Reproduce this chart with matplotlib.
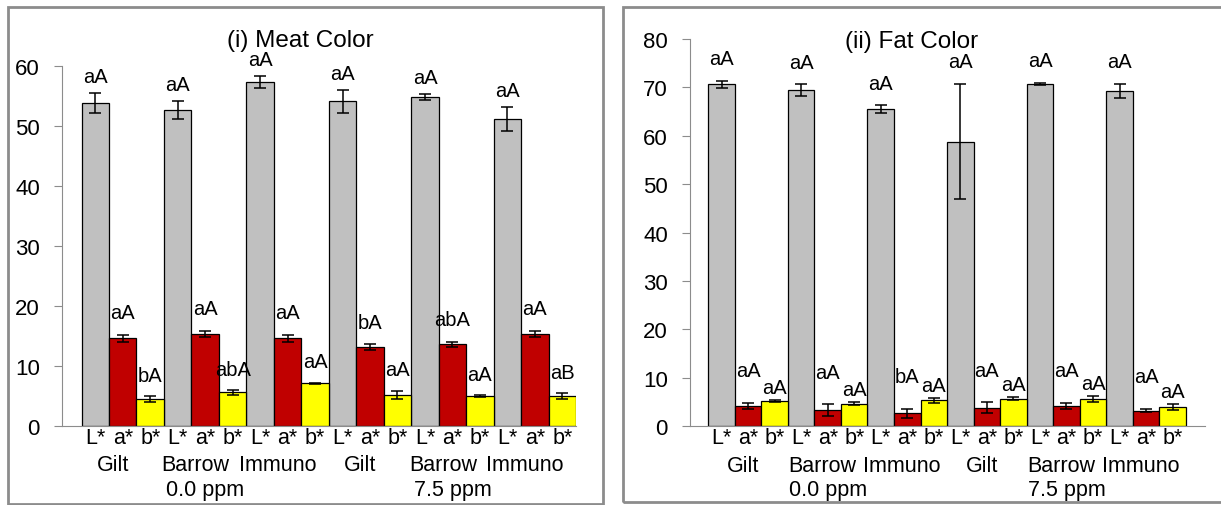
import matplotlib
matplotlib.use("Agg")
import matplotlib.pyplot as plt
from matplotlib.patches import Rectangle
import numpy as np

plt.rcParams["font.family"] = ["Liberation Sans", "DejaVu Sans"]

# data
# ---

groups = ["Gilt", "Barrow", "Immuno", "Gilt", "Barrow", "Immuno"]
doses = ["0.0 ppm", "7.5 ppm"]
traits = ["L*", "a*", "b*"]

# meat color: means, error bars and significance letters
meat_L = [53.8, 52.7, 57.3, 54.1, 54.8, 51.1]
meat_L_err = [1.7, 1.5, 1.0, 1.9, 0.5, 2.0]
meat_a = [14.6, 15.3, 14.6, 13.1, 13.6, 15.4]
meat_a_err = [0.6, 0.5, 0.6, 0.5, 0.4, 0.5]
meat_b = [4.5, 5.6, 7.1, 5.2, 5.0, 5.0]
meat_b_err = [0.45, 0.4, 0.15, 0.7, 0.15, 0.45]
meat_L_sig = ["aA", "aA", "aA", "aA", "aA", "aA"]
meat_a_sig = ["aA", "aA", "aA", "bA", "abA", "aA"]
meat_b_sig = ["bA", "abA", "aA", "aA", "aA", "aB"]

# fat color
fat_L = [70.6, 69.4, 65.5, 58.8, 70.7, 69.3]
fat_L_err = [0.8, 1.2, 0.8, 11.9, 0.2, 1.4]
fat_a = [4.2, 3.3, 2.6, 3.8, 4.2, 3.2]
fat_a_err = [0.65, 1.2, 1.0, 1.1, 0.6, 0.4]
fat_b = [5.2, 4.6, 5.3, 5.6, 5.6, 3.9]
fat_b_err = [0.2, 0.3, 0.5, 0.3, 0.7, 0.6]
fat_L_sig = ["aA", "aA", "aA", "aA", "aA", "aA"]
fat_a_sig = ["aA", "aA", "bA", "aA", "aA", "aA"]
fat_b_sig = ["aA", "aA", "aA", "aA", "aA", "aA"]

colors = ["#C0C0C0", "#C00000", "#FFFF00"]
frame_col = "#8C8C8C"
axis_col = "#8C8C8C"


def draw_panel(ax, title, series, errs, sigs, ymax, ystep, xlim,
               title_xy, sig_offsets, row_y, group_shift):
    n = len(groups)
    for t in range(3):
        x = np.arange(n) * 3 + t
        ax.bar(x, series[t], width=1.0, color=colors[t], edgecolor="black",
               linewidth=0.9, zorder=2)
        ax.errorbar(x, series[t], yerr=errs[t], fmt="none", ecolor="black",
                    elinewidth=1.1, capsize=4.5, capthick=1.1, zorder=3)
        # significance letters above each error bar
        for xi, v, e, s in zip(x, series[t], errs[t], sigs[t]):
            ax.annotate(s, (xi, v + e), xytext=(0, sig_offsets[t]),
                        textcoords="offset points", ha="center", va="center",
                        fontsize=14.5)

    ax.set_xlim(*xlim)
    ax.set_ylim(0, ymax)
    ax.set_yticks(np.arange(0, ymax + 1, ystep))
    ax.tick_params(axis="y", direction="out", length=6, width=0.8,
                   color=axis_col, labelsize=16, pad=10)
    ax.set_xticks(np.arange(n * 3))
    ax.set_xticklabels(traits * n, fontsize=15.5)
    ax.tick_params(axis="x", length=0, pad=1)
    for side in ["top", "right"]:
        ax.spines[side].set_visible(False)
    for side in ["left", "bottom"]:
        ax.spines[side].set_color(axis_col)
        ax.spines[side].set_linewidth(0.8)

    # second and third rows of the category axis
    tr = ax.get_xaxis_transform()
    for g, name in enumerate(groups):
        ax.text(g * 3 + 1 + group_shift, row_y[0], name, transform=tr,
                ha="center", va="center", fontsize=15.5)
    for d, dose in enumerate(doses):
        ax.text(d * 9 + 4, row_y[1], dose, transform=tr,
                ha="center", va="center", fontsize=15.5)

    ax.text(title_xy[0], title_xy[1], title, transform=ax.transAxes,
            ha="center", va="center", fontsize=17.5)


fig = plt.figure(figsize=(12.21, 5.06), dpi=100)

# panel frames
fig.add_artist(Rectangle((0.0066, 0.002), 0.4873, 0.982, transform=fig.transFigure,
                         fill=False, edgecolor=frame_col, linewidth=2.0))
fig.add_artist(Rectangle((0.5102, 0.006), 0.50, 0.978, transform=fig.transFigure,
                         fill=False, edgecolor=frame_col, linewidth=2.0))

ax1 = fig.add_axes([0.0508, 0.1561, 0.421, 0.7115])
draw_panel(ax1, "(i) Meat Color",
           [meat_L, meat_a, meat_b], [meat_L_err, meat_a_err, meat_b_err],
           [meat_L_sig, meat_a_sig, meat_b_sig],
           60, 10, (-1.21, 17.5), (0.463, 1.072), (12, 16, 15),
           (-0.106, -0.175), -0.35)

ax2 = fig.add_axes([0.5651, 0.1561, 0.4218, 0.7648])
draw_panel(ax2, "(ii) Fat Color",
           [fat_L, fat_a, fat_b], [fat_L_err, fat_a_err, fat_b_err],
           [fat_L_sig, fat_a_sig, fat_b_sig],
           80, 10, (-1.19, 18.22), (0.431, 0.995), (16, 23, 9),
           (-0.103, -0.163), -0.2)

plt.savefig("out.png", dpi=100)
plt.close()
